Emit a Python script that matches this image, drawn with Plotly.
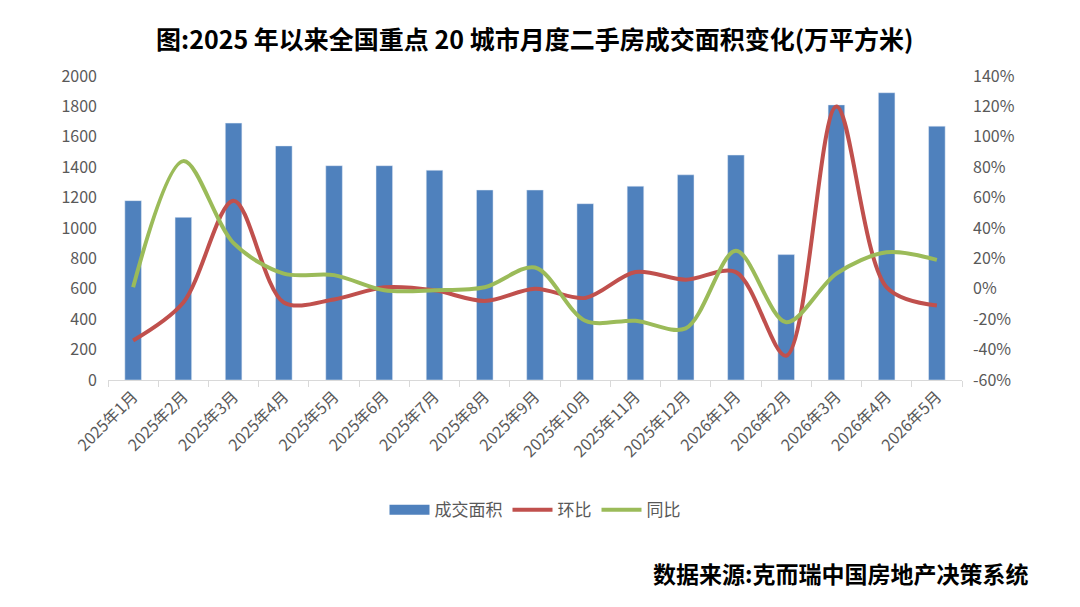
import plotly.graph_objects as go

months = ["2025年1月", "2025年2月", "2025年3月", "2025年4月", "2025年5月", "2025年6月",
          "2025年7月", "2025年8月", "2025年9月", "2025年10月", "2025年11月", "2025年12月",
          "2026年1月", "2026年2月", "2026年3月", "2026年4月", "2026年5月"]
area = [1180, 1070, 1690, 1540, 1410, 1410, 1380, 1250, 1250, 1160, 1275, 1350,
        1480, 825, 1810, 1890, 1670]
mom = [-34, -9, 58, -9, -7, 1, -1, -8, 0, -6, 11, 6, 11, -44, 120, 1, -11]
yoy = [1, 84, 30, 10, 9, -1, -1, 1, 14, -21, -21, -26, 25, -22, 10, 24, 19]

left_ticks = list(range(0, 2001, 200))
right_ticks = list(range(-60, 141, 20))

BLUE, RED, GREEN = "#4F81BD", "#C0504D", "#9BBB59"

fig = go.Figure()
fig.add_trace(go.Bar(x=months, y=area, name="成交面积", marker_color=BLUE,
                     width=0.33, yaxis="y", showlegend=False))
# legend entry drawn as a wide block, like the reference
fig.add_trace(go.Scatter(x=[None], y=[None], name="成交面积", mode="lines",
                         line=dict(color=BLUE, width=10), yaxis="y"))
fig.add_trace(go.Scatter(x=months, y=mom, name="环比", mode="lines",
                         line=dict(color=RED, width=4, shape="spline", smoothing=0.9),
                         yaxis="y2"))
fig.add_trace(go.Scatter(x=months, y=yoy, name="同比", mode="lines",
                         line=dict(color=GREEN, width=4, shape="spline", smoothing=0.9),
                         yaxis="y2"))

tick_font = dict(family="Noto Sans CJK SC, Noto Sans", size=16, color="#595959")

fig.update_layout(
    width=1080, height=607,
    margin=dict(l=108, r=118, t=76, b=227),
    paper_bgcolor="white", plot_bgcolor="white",
    showlegend=True,
    legend=dict(orientation="h", x=0.5, xanchor="center", y=-0.428, yanchor="middle",
                font=dict(family="Noto Sans CJK SC", size=17, color="#595959"),
                itemwidth=40, traceorder="normal", tracegroupgap=0),
    xaxis=dict(type="category", tickangle=-45,
               tickfont=dict(family="Noto Sans CJK SC", size=16, color="#595959"),
               showline=True, linecolor="#D9D9D9", linewidth=1,
               ticks="outside", ticklen=6, tickcolor="#D9D9D9", tickson="boundaries",
               showgrid=False),
    yaxis=dict(range=[0, 2000], tickvals=left_ticks, tickfont=tick_font,
               showgrid=False, zeroline=False, showline=False, ticklabelstandoff=10),
    yaxis2=dict(range=[-60, 140], tickvals=right_ticks,
                ticktext=[f"{v}%" for v in right_ticks], tickfont=tick_font,
                overlaying="y", side="right", showgrid=False, zeroline=False, showline=False,
                ticklabelstandoff=10),
    bargap=0.5,
)

fig.add_annotation(text="<b>图:2025 年以来全国重点 20 城市月度二手房成交面积变化(万平方米)</b>",
                   xref="paper", yref="paper", x=0.5, y=1.125, xanchor="center", yanchor="middle",
                   showarrow=False,
                   font=dict(family="Noto Sans CJK SC", size=25, color="#000000"))
fig.add_annotation(text="<b>数据来源:克而瑞中国房地产决策系统</b>",
                   xref="paper", yref="paper", x=1.0796, y=-0.635, xanchor="right", yanchor="middle",
                   showarrow=False,
                   font=dict(family="Noto Sans CJK SC", size=23, color="#000000"))

fig.write_html("out.html")
